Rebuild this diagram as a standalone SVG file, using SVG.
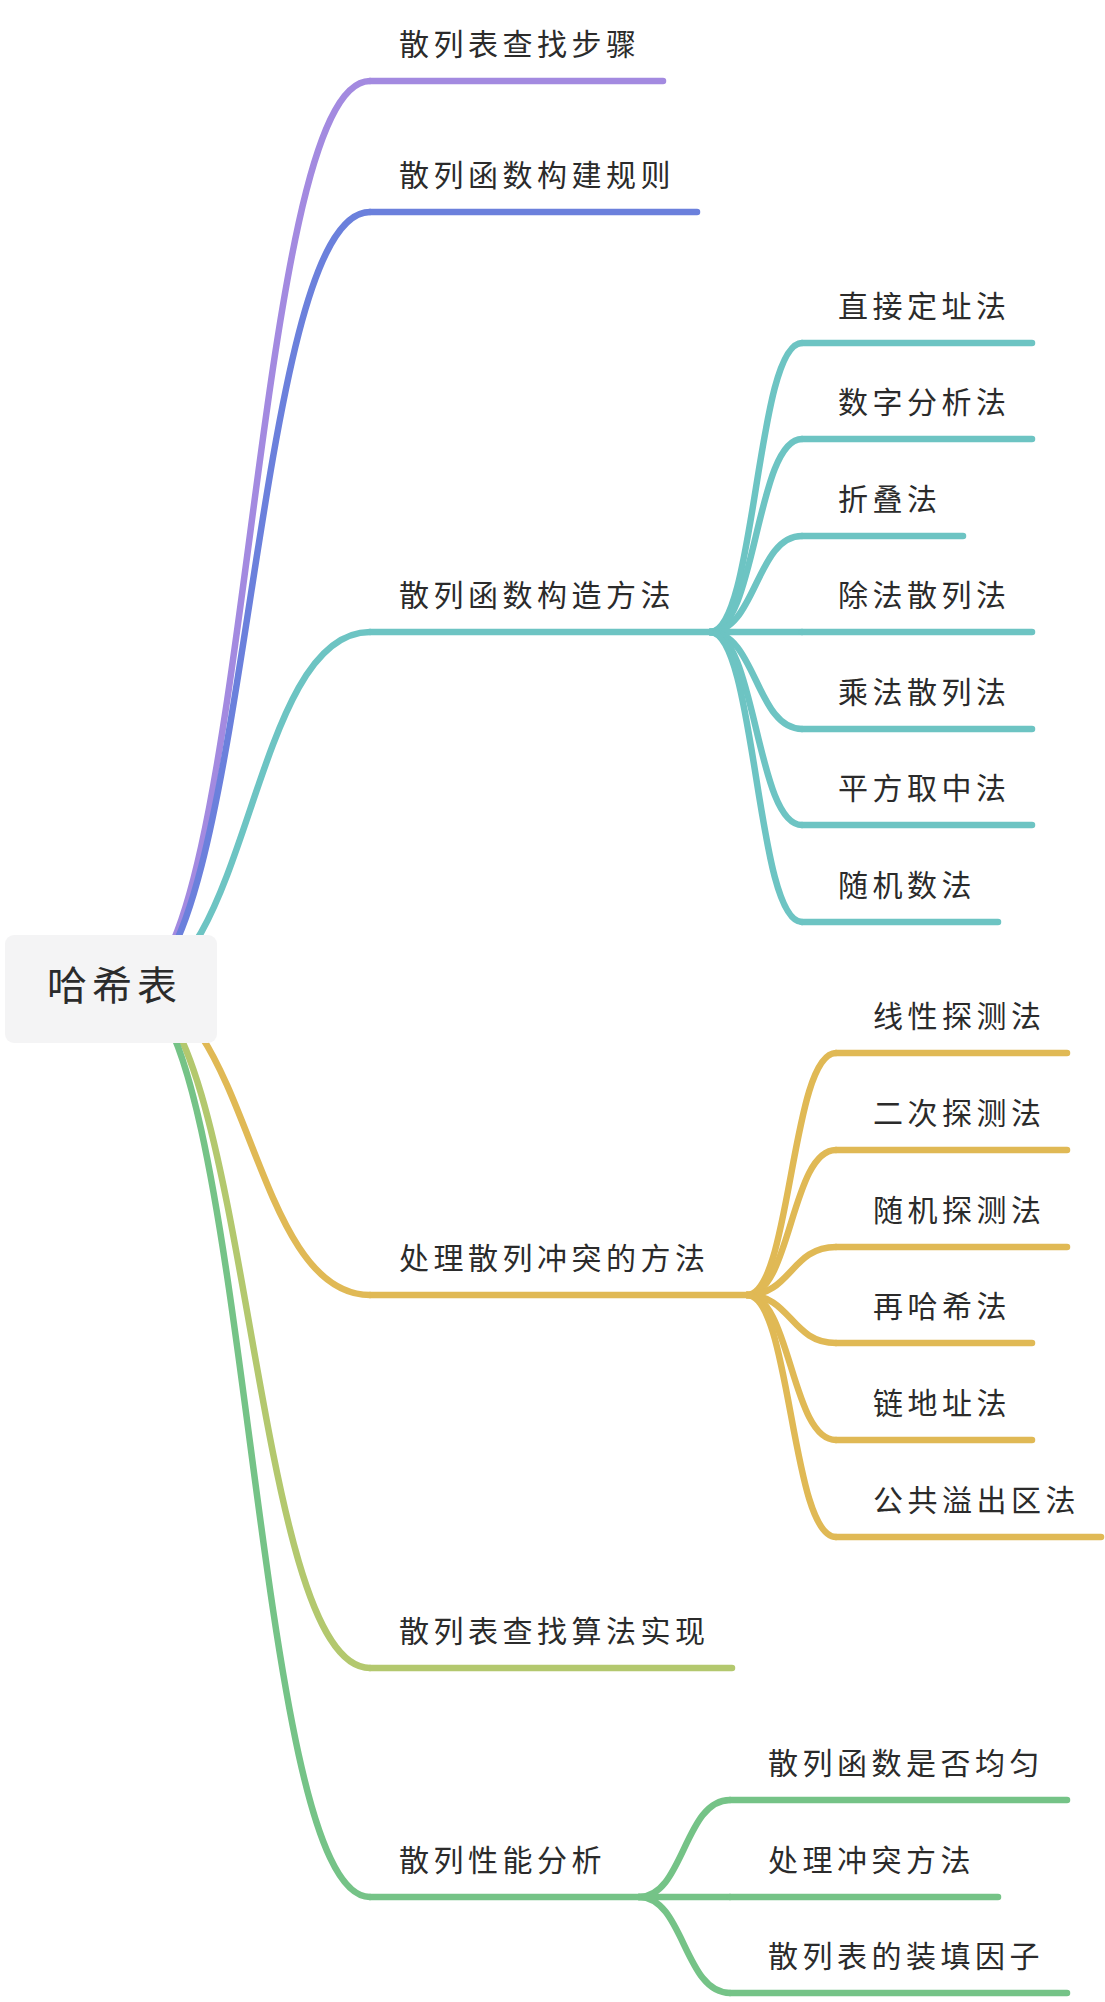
<svg xmlns="http://www.w3.org/2000/svg" width="1105" height="2002" viewBox="0 0 1105 2002">
  <style>
    .lk { fill: none; stroke-width: 6.5; stroke-linecap: round; }
    .ul { stroke-width: 6.5; stroke-linecap: round; }
    .t { font-family: "Noto Sans CJK SC", "Noto Sans", sans-serif; font-size: 30px; letter-spacing: 4.5px; fill: #2b2b2b; }
    .root { font-family: "Noto Sans CJK SC", "Noto Sans", sans-serif; font-size: 40px; letter-spacing: 5px; fill: #2b2b2b; }
    .c1 { stroke: #a38ae0; } .c2 { stroke: #6b80dc; } .c3 { stroke: #6dc4c3; }
    .c4 { stroke: #e0b955; } .c5 { stroke: #b3c86e; } .c6 { stroke: #75c387; }
  </style>
  <rect width="1105" height="2002" fill="#ffffff"/>
  <g id="connectors">
    <path class="lk c1" d="M130,988 C250,988 250,81 370,81"/>
    <path class="lk c2" d="M130,988 C250,988 250,212 370,212"/>
    <path class="lk c3" d="M130,988 C250,988 250,632 370,632"/>
    <path class="lk c4" d="M130,988 C250,988 250,1295 370,1295"/>
    <path class="lk c5" d="M130,988 C250,988 250,1668 370,1668"/>
    <path class="lk c6" d="M130,988 C250,988 250,1897 370,1897"/>
    <path class="lk c3" d="M710,632 C756,632 756,343 802,343"/>
    <path class="lk c3" d="M710,632 C756,632 756,439 802,439"/>
    <path class="lk c3" d="M710,632 C756,632 756,536 802,536"/>
    <path class="lk c3" d="M710,632 L802,632"/>
    <path class="lk c3" d="M710,632 C756,632 756,729 802,729"/>
    <path class="lk c3" d="M710,632 C756,632 756,825 802,825"/>
    <path class="lk c3" d="M710,632 C756,632 756,922 802,922"/>
    <path class="lk c4" d="M747,1295 C791,1295 791,1053 836,1053"/>
    <path class="lk c4" d="M747,1295 C791,1295 791,1150 836,1150"/>
    <path class="lk c4" d="M747,1295 C791,1295 791,1247 836,1247"/>
    <path class="lk c4" d="M747,1295 C791,1295 791,1343 836,1343"/>
    <path class="lk c4" d="M747,1295 C791,1295 791,1440 836,1440"/>
    <path class="lk c4" d="M747,1295 C791,1295 791,1537 836,1537"/>
    <path class="lk c6" d="M639,1897 C684,1897 684,1800 730,1800"/>
    <path class="lk c6" d="M639,1897 L730,1897"/>
    <path class="lk c6" d="M639,1897 C684,1897 684,1993 730,1993"/>
  </g>
  <g id="root">
    <rect x="5" y="935" width="212" height="108" rx="9" fill="#f4f4f5"/>
    <text class="root" x="47" y="1000">哈希表</text>
  </g>
  <g id="n1"><line class="ul c1" x1="370" y1="81" x2="663" y2="81"/><text class="t" x="399" y="55">散列表查找步骤</text></g>
  <g id="n2"><line class="ul c2" x1="370" y1="212" x2="697" y2="212"/><text class="t" x="399" y="186">散列函数构建规则</text></g>
  <g id="n3"><line class="ul c3" x1="370" y1="632" x2="710" y2="632"/><text class="t" x="399" y="606">散列函数构造方法</text></g>
  <g id="n3-1"><line class="ul c3" x1="802" y1="343" x2="1032" y2="343"/><text class="t" x="838" y="317">直接定址法</text></g>
  <g id="n3-2"><line class="ul c3" x1="802" y1="439" x2="1032" y2="439"/><text class="t" x="838" y="413">数字分析法</text></g>
  <g id="n3-3"><line class="ul c3" x1="802" y1="536" x2="963" y2="536"/><text class="t" x="838" y="510">折叠法</text></g>
  <g id="n3-4"><line class="ul c3" x1="802" y1="632" x2="1032" y2="632"/><text class="t" x="838" y="606">除法散列法</text></g>
  <g id="n3-5"><line class="ul c3" x1="802" y1="729" x2="1032" y2="729"/><text class="t" x="838" y="703">乘法散列法</text></g>
  <g id="n3-6"><line class="ul c3" x1="802" y1="825" x2="1032" y2="825"/><text class="t" x="838" y="799">平方取中法</text></g>
  <g id="n3-7"><line class="ul c3" x1="802" y1="922" x2="998" y2="922"/><text class="t" x="838" y="896">随机数法</text></g>
  <g id="n4"><line class="ul c4" x1="370" y1="1295" x2="747" y2="1295"/><text class="t" x="399" y="1269">处理散列冲突的方法</text></g>
  <g id="n4-1"><line class="ul c4" x1="836" y1="1053" x2="1067" y2="1053"/><text class="t" x="873" y="1027">线性探测法</text></g>
  <g id="n4-2"><line class="ul c4" x1="836" y1="1150" x2="1067" y2="1150"/><text class="t" x="873" y="1124">二次探测法</text></g>
  <g id="n4-3"><line class="ul c4" x1="836" y1="1247" x2="1067" y2="1247"/><text class="t" x="873" y="1221">随机探测法</text></g>
  <g id="n4-4"><line class="ul c4" x1="836" y1="1343" x2="1032" y2="1343"/><text class="t" x="873" y="1317">再哈希法</text></g>
  <g id="n4-5"><line class="ul c4" x1="836" y1="1440" x2="1032" y2="1440"/><text class="t" x="873" y="1414">链地址法</text></g>
  <g id="n4-6"><line class="ul c4" x1="836" y1="1537" x2="1101" y2="1537"/><text class="t" x="873" y="1511">公共溢出区法</text></g>
  <g id="n5"><line class="ul c5" x1="370" y1="1668" x2="732" y2="1668"/><text class="t" x="399" y="1642">散列表查找算法实现</text></g>
  <g id="n6"><line class="ul c6" x1="370" y1="1897" x2="639" y2="1897"/><text class="t" x="399" y="1871">散列性能分析</text></g>
  <g id="n6-1"><line class="ul c6" x1="730" y1="1800" x2="1067" y2="1800"/><text class="t" x="768" y="1774">散列函数是否均匀</text></g>
  <g id="n6-2"><line class="ul c6" x1="730" y1="1897" x2="998" y2="1897"/><text class="t" x="768" y="1871">处理冲突方法</text></g>
  <g id="n6-3"><line class="ul c6" x1="730" y1="1993" x2="1067" y2="1993"/><text class="t" x="768" y="1967">散列表的装填因子</text></g>
</svg>
